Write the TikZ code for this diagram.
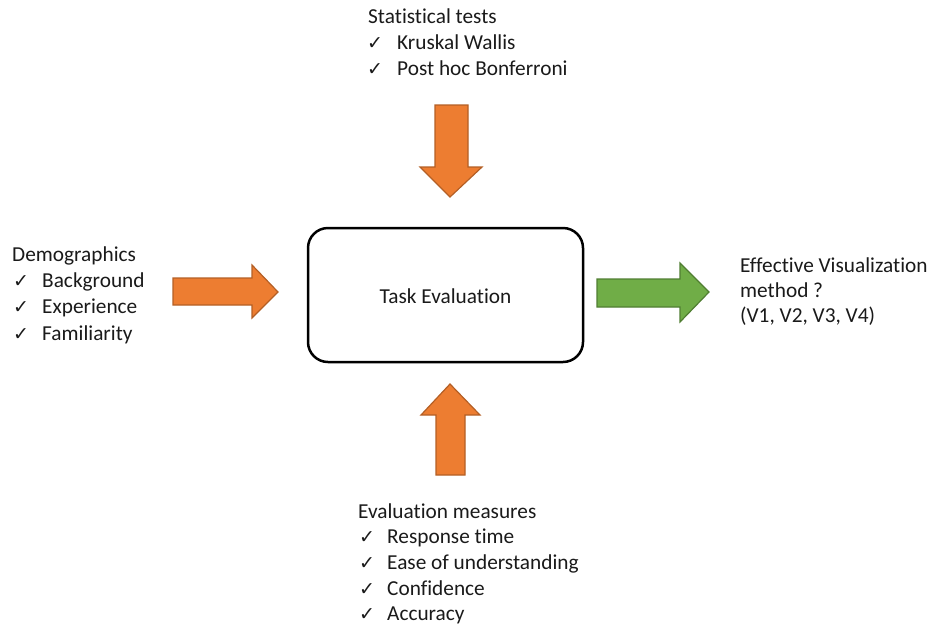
\documentclass[tikz,border=0pt]{standalone}
\usepackage{fontspec}
\setmainfont{Carlito}[Ligatures=NoCommon]
\newfontfamily\chkfont{DejaVu Sans}
\definecolor{orfill}{HTML}{ED7D31}
\definecolor{ordraw}{HTML}{B45F25}
\definecolor{grfill}{HTML}{70AD47}
\definecolor{grdraw}{HTML}{507E32}
\definecolor{txt}{HTML}{1A1A1A}
\newcommand{\ck}{{\chkfont\fontsize{19}{19}\selectfont ✓}}
\tikzset{
  lbl/.style={anchor=base west, inner sep=0pt, font=\fontsize{21.3}{26}\selectfont, text=txt},
  chk/.style={anchor=base west, inner sep=0pt, text=txt},
  orarrow/.style={fill=orfill, draw=ordraw, line width=1.2pt, line join=miter},
  grarrow/.style={fill=grfill, draw=grdraw, line width=1.2pt, line join=miter},
  mainbox/.style={draw=black, line width=2.5pt, rounded corners=20pt, fill=white}
}
\begin{document}
\begin{tikzpicture}[x=1pt,y=-1pt]
\useasboundingbox (0,0) rectangle (928,625);
% main box
\draw[mainbox] (308,228) rectangle (583,362);
\node[anchor=base, inner sep=0pt, font=\fontsize{21.3}{26}\selectfont, text=txt] (task) at (445.5,303) {Task Evaluation};
% top
\node[lbl] (st) at (368,23) {Statistical tests};
\node[chk] (c1) at (367,49) {\ck};
\node[lbl] (st1) at (397,49) {Kruskal Wallis};
\node[chk] (c2) at (367,75) {\ck};
\node[lbl] (st2) at (397,75) {Post hoc Bonferroni};
% down arrow
\draw[orarrow] (435,105) -- (468,105) -- (468,167) -- (482,167) -- (450,197) -- (420,167) -- (435,167) -- cycle;
% left
\node[lbl] (dm) at (12,261) {Demographics};
\node[chk] (c3) at (13,287) {\ck};
\node[lbl] (dm1) at (42,287) {Background};
\node[chk] (c4) at (13,313) {\ck};
\node[lbl] (dm2) at (42,313) {Experience};
\node[chk] (c5) at (13,340) {\ck};
\node[lbl] (dm3) at (42,340) {Familiarity};
% left arrow
\draw[orarrow] (173,278) -- (252,278) -- (252,265) -- (278,292) -- (252,318) -- (252,305) -- (173,305) -- cycle;
% right arrow
\draw[grarrow] (597,279) -- (680,279) -- (680,263) -- (709,292) -- (680,322) -- (680,307) -- (597,307) -- cycle;
% right text
\node[lbl] (ev1) at (740,272) {Effective Visualization};
\node[lbl] (ev2) at (740,297) {method ?};
\node[lbl] (ev3) at (740,322) {(V1, V2, V3, V4)};
% up arrow
\draw[orarrow] (436,475) -- (465,475) -- (465,415) -- (480,415) -- (450,384) -- (421,415) -- (436,415) -- cycle;
% bottom
\node[lbl] (em) at (358,518) {Evaluation measures};
\node[chk] (c6) at (359,543) {\ck};
\node[lbl] (em1) at (387,543) {Response time};
\node[chk] (c7) at (359,569) {\ck};
\node[lbl] (em2) at (387,569) {Ease of understanding};
\node[chk] (c8) at (359,595) {\ck};
\node[lbl] (em3) at (387,595) {Confidence};
\node[chk] (c9) at (359,620) {\ck};
\node[lbl] (em4) at (387,620) {Accuracy};
\end{tikzpicture}
\end{document}
